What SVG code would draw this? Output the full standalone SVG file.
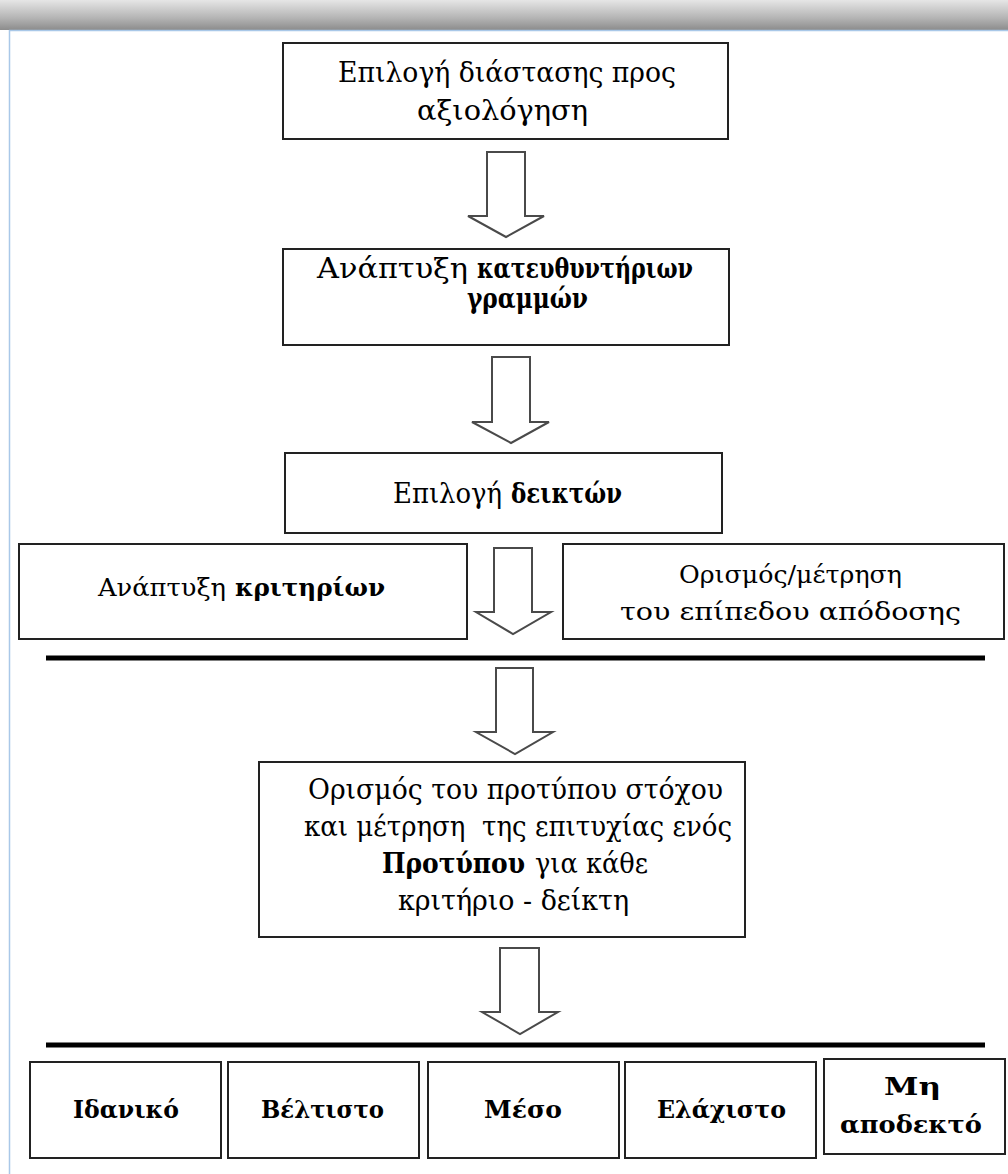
<svg xmlns="http://www.w3.org/2000/svg" width="1008" height="1174" viewBox="0 0 1008 1174">
<defs>
<linearGradient id="topband" x1="0" y1="0" x2="0" y2="1">
<stop offset="0" stop-color="#e6e6e6"/>
<stop offset="0.6" stop-color="#b4b4b4"/>
<stop offset="1" stop-color="#8c8c8c"/>
</linearGradient>
<style>
.box{fill:#ffffff;stroke:#222222;stroke-width:2}
.arr{fill:#ffffff;stroke:#4a4a4a;stroke-width:2;stroke-linejoin:miter}
.bar{fill:#000000}
.tx{font-family:'DejaVu Serif','Liberation Serif',serif;fill:#000000}
.t30{font-size:28px}
.t27{font-size:25px}
.b{font-weight:bold}
</style>
</defs>
<rect x="0" y="0" width="1008" height="1174" fill="#ffffff"/>
<rect x="0" y="0" width="1008" height="30" fill="url(#topband)"/>
<line x1="9" y1="30.5" x2="1008" y2="30.5" stroke="#a9c8e8" stroke-width="1.5"/>
<line x1="9.5" y1="30" x2="9.5" y2="1174" stroke="#a9c8e8" stroke-width="1.5"/>

<g id="connectors">
<path class="arr" d="M487,152 H525 V216 H544 L506,237 L468,216 H487 Z"/>
<path class="arr" d="M492,357 H530 V422 H549 L511,443 L472,422 H492 Z"/>
<path class="arr" d="M494,548 H532 V612 H551 L513,634 L476,612 H494 Z"/>
<path class="arr" d="M496,668 H533 V732 H553 L515,754 L476,732 H496 Z"/>
<path class="arr" d="M500,948 H539 V1012 H558 L520,1034 L482,1012 H500 Z"/>
<rect class="bar" x="46" y="655.5" width="939" height="5"/>
<rect class="bar" x="46" y="1042.5" width="939" height="5"/>
</g>

<g id="n1">
<rect class="box" x="283" y="43" width="445" height="96"/>
<text class="tx t30" x="338" y="82" textLength="338" lengthAdjust="spacingAndGlyphs">Επιλογή διάστασης προς</text>
<text class="tx t30" x="417" y="120" textLength="171" lengthAdjust="spacingAndGlyphs">αξιολόγηση</text>
</g>

<g id="n2">
<rect class="box" x="283" y="249" width="446" height="96"/>
<text class="tx t30" x="317" y="278" textLength="151" lengthAdjust="spacingAndGlyphs">Ανάπτυξη</text>
<text class="tx t30 b" x="477" y="278" textLength="216" lengthAdjust="spacingAndGlyphs">κατευθυντήριων</text>
<text class="tx t30 b" x="467" y="308" textLength="121" lengthAdjust="spacingAndGlyphs">γραμμών</text>
</g>

<g id="n3">
<rect class="box" x="285" y="453" width="437" height="80"/>
<text class="tx t30" x="393" y="503" textLength="109" lengthAdjust="spacingAndGlyphs">Επιλογή</text>
<text class="tx t30 b" x="511" y="503" textLength="111" lengthAdjust="spacingAndGlyphs">δεικτών</text>
</g>

<g id="n4">
<rect class="box" x="19" y="544" width="448" height="95"/>
<text class="tx t27" x="98" y="596" textLength="128" lengthAdjust="spacingAndGlyphs">Ανάπτυξη</text>
<text class="tx t27 b" x="235" y="596" textLength="150" lengthAdjust="spacingAndGlyphs">κριτηρίων</text>
</g>

<g id="n5">
<rect class="box" x="563" y="544" width="441" height="95"/>
<text class="tx t27" x="679" y="583" textLength="223" lengthAdjust="spacingAndGlyphs">Ορισμός/μέτρηση</text>
<text class="tx t27" x="620" y="620" textLength="341" lengthAdjust="spacingAndGlyphs">του επίπεδου απόδοσης</text>
</g>

<g id="n6">
<rect class="box" x="259" y="762" width="486" height="175"/>
<text class="tx t30" x="308" y="799" textLength="415" lengthAdjust="spacingAndGlyphs">Ορισμός του προτύπου στόχου</text>
<text class="tx t30" x="304" y="836" textLength="428" lengthAdjust="spacingAndGlyphs" xml:space="preserve">και μέτρηση  της επιτυχίας ενός</text>
<text class="tx t30 b" x="382" y="873" textLength="143" lengthAdjust="spacingAndGlyphs">Προτύπου</text>
<text class="tx t30" x="535" y="873" textLength="113" lengthAdjust="spacingAndGlyphs">για κάθε</text>
<text class="tx t30" x="398" y="910" textLength="231" lengthAdjust="spacingAndGlyphs">κριτήριο - δείκτη</text>
</g>

<g id="n7">
<rect class="box" x="30" y="1062" width="191" height="96"/>
<text class="tx t27 b" x="73" y="1118" textLength="106" lengthAdjust="spacingAndGlyphs">Ιδανικό</text>
</g>
<g id="n8">
<rect class="box" x="228" y="1062" width="191" height="96"/>
<text class="tx t27 b" x="261" y="1118" textLength="123" lengthAdjust="spacingAndGlyphs">Βέλτιστο</text>
</g>
<g id="n9">
<rect class="box" x="428" y="1062" width="191" height="96"/>
<text class="tx t27 b" x="484" y="1118" textLength="78" lengthAdjust="spacingAndGlyphs">Μέσο</text>
</g>
<g id="n10">
<rect class="box" x="625" y="1062" width="191" height="96"/>
<text class="tx t27 b" x="657" y="1118" textLength="129" lengthAdjust="spacingAndGlyphs">Ελάχιστο</text>
</g>
<g id="n11">
<rect class="box" x="824" y="1059" width="181" height="95"/>
<text class="tx t27 b" x="884" y="1095" textLength="57" lengthAdjust="spacingAndGlyphs">Μη</text>
<text class="tx t27 b" x="840" y="1133" textLength="142" lengthAdjust="spacingAndGlyphs">αποδεκτό</text>
</g>
</svg>
